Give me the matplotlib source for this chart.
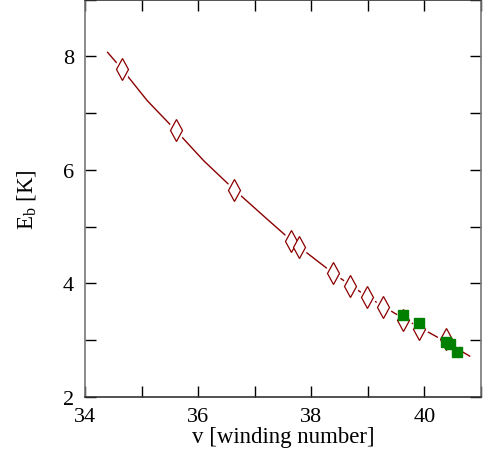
import matplotlib
matplotlib.use("Agg")
import matplotlib.pyplot as plt
from matplotlib.ticker import MultipleLocator

plt.rcParams['font.family'] = ['Liberation Serif', 'DejaVu Serif']
plt.rcParams['mathtext.fontset'] = 'custom'
plt.rcParams['mathtext.rm'] = 'Liberation Serif'

# curve
curve_x = [34.40, 34.65, 35.10, 35.60, 36.10, 36.65, 37.20, 37.70, 38.40, 39.00, 39.60, 40.20, 40.80]
curve_y = [8.07, 7.78, 7.22, 6.70, 6.16, 5.64, 5.15, 4.71, 4.17, 3.76, 3.40, 3.07, 2.72]

# open diamonds
dia_x = [34.65, 35.60, 36.64, 37.64, 37.79, 38.38, 38.68, 38.98, 39.26, 39.62, 39.90, 40.39]
dia_y = [7.77, 6.70, 5.64, 4.75, 4.64, 4.18, 3.95, 3.76, 3.58, 3.35, 3.19, 3.02]

# filled squares
sq_x = [39.62, 39.90, 40.39, 40.46, 40.58]
sq_y = [3.44, 3.30, 2.97, 2.93, 2.79]

fig = plt.figure(figsize=(4.84, 4.6), dpi=100)
ax = fig.add_axes([0.1756, 0.1348, 0.8182, 0.864])

ax.plot(curve_x, curve_y, color='#8b0000', lw=1.0, zorder=1)
ax.plot(dia_x, dia_y, ls='none', marker='d', ms=15, mfc='white', mec='white', zorder=2)
ax.plot(dia_x, dia_y, ls='none', marker='d', ms=11, mfc='white', mec='#8b0000', mew=0.9, zorder=3)
ax.plot(sq_x, sq_y, ls='none', marker='s', ms=7.5, color='green', zorder=4)

ax.set_xlim(34, 41)
ax.set_ylim(2, 9)
ax.xaxis.set_major_locator(MultipleLocator(2))
ax.xaxis.set_minor_locator(MultipleLocator(1))
ax.yaxis.set_major_locator(MultipleLocator(2))
ax.yaxis.set_minor_locator(MultipleLocator(1))
ax.tick_params(which='both', direction='in', top=True, right=True, length=8, width=1, labelsize=16, colors='black')
ax.tick_params(axis='x', pad=7)
ax.tick_params(axis='y', pad=8)
for side in ['left', 'right']:
    ax.spines[side].set_color('#777777')
for side in ['top', 'bottom']:
    ax.spines[side].set_color('#333333')
for s in ax.spines.values():
    s.set_linewidth(1.2)

ax.set_xlabel('v [winding number]', fontsize=16.5, labelpad=0)
ax.set_ylabel(r'E$_\mathrm{b}$ [K]', fontsize=16.5, labelpad=17)

fig.savefig('out.png', dpi=100)
